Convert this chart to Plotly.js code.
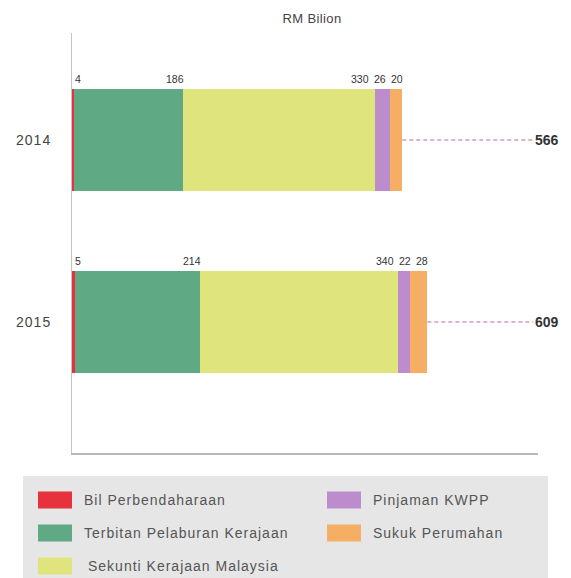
<!DOCTYPE html>
<html>
<head>
<meta charset="utf-8">
<script src="https://cdn.plot.ly/plotly-3.0.1.min.js"></script>
<style>
html,body{margin:0;padding:0;background:#fff;}
#chart{width:571px;height:578px;}
</style>
</head>
<body>
<div id="chart"></div>
<script>
// ---- data ----
const years = ['2014', '2015'];
const seriesNames = ['Bil Perbendaharaan', 'Terbitan Pelaburan Kerajaan', 'Sekunti Kerajaan Malaysia', 'Pinjaman KWPP', 'Sukuk Perumahan'];
const bilPerbendaharaan = [4, 5];
const terbitanPelaburan = [186, 214];
const sekuntiKerajaan = [330, 340];
const pinjamanKWPP = [26, 22];
const sukukPerumahan = [20, 28];
const unitTitle = 'RM Bilion';

const seriesValues = [bilPerbendaharaan, terbitanPelaburan, sekuntiKerajaan, pinjamanKWPP, sukukPerumahan];
const colors = ['#e6323c', '#5fa984', '#dfe57c', '#bd8ccd', '#f5ae64'];

// layout geometry (pixels)
const W = 571, H = 578;
const mL = 72, mR = 33, mT = 33, mB = 125;
const pw = W - mL - mR, ph = H - mT - mB;
const xMax = 800;
const px2paperX = px => (px - mL) / pw;
const py2paperY = py => (H - mB - py) / ph;
const dataToPx = v => v * pw / xMax;

const font = 'Liberation Sans, Arial, sans-serif';
const barW = 0.56;
const labelSize = 10.5;
const digitW = 5.9;

const traces = seriesValues.map((vals, i) => ({
  type: 'bar',
  orientation: 'h',
  name: seriesNames[i],
  y: years,
  x: vals,
  width: barW,
  marker: {color: colors[i], line: {width: 0}},
  hoverinfo: 'skip',
  showlegend: false
}));

const annotations = [];
const shapes = [];

years.forEach((yr, yi) => {
  // value labels: right-aligned at segment end, with simple collision avoidance
  let cum = 0;
  const labs = seriesValues.map((vals, si) => {
    const v = vals[yi];
    cum += v;
    const txt = String(v);
    const w = txt.length * digitW;
    let right;
    if (si === 0) right = 5 + w;          // first label sits at the bar start
    else right = dataToPx(cum) + 3;
    return {v, txt, w, right};
  });
  for (let k = labs.length - 2; k >= 1; k--) {
    const limit = labs[k + 1].right - labs[k + 1].w - 5;
    if (labs[k].right > limit) labs[k].right = limit;
  }
  labs.forEach(lb => {
    annotations.push({
      x: 0, y: yi - barW / 2, xref: 'x', yref: 'y',
      text: lb.txt, showarrow: false,
      xanchor: 'right', yanchor: 'bottom',
      xshift: lb.right, yshift: 2,
      font: {family: font, size: labelSize, color: '#333'}
    });
  });
  // total with dashed leader
  const total = seriesValues.reduce((s, arr) => s + arr[yi], 0);
  const lineEnd = 792;
  shapes.push({
    type: 'line', xref: 'x', yref: 'y',
    x0: total + 1, x1: lineEnd, y0: yi, y1: yi,
    line: {color: 'rgb(190,100,170)', width: 1, dash: '4px,3px'}
  });
  annotations.push({
    x: lineEnd, y: yi, xref: 'x', yref: 'y',
    text: '<b>' + total + '</b>', showarrow: false,
    xanchor: 'left', yanchor: 'middle', xshift: 0,
    font: {family: font, size: 14, color: '#333'}
  });
});

// custom legend box
shapes.push({
  type: 'rect', xref: 'paper', yref: 'paper',
  x0: px2paperX(23), x1: px2paperX(548), y0: py2paperY(590), y1: py2paperY(476),
  fillcolor: '#e6e6e6', line: {width: 0}, layer: 'below'
});
const legendPos = [
  {sx: 38, ry: 500, tx: 82}, {sx: 38, ry: 533, tx: 82}, {sx: 38, ry: 566, tx: 86},
  {sx: 327, ry: 500, tx: 371}, {sx: 327, ry: 533, tx: 371}
];
seriesNames.forEach((nm, i) => {
  const p = legendPos[i];
  shapes.push({
    type: 'rect', xref: 'paper', yref: 'paper',
    x0: px2paperX(p.sx), x1: px2paperX(p.sx + 34),
    y0: py2paperY(p.ry + 8.5), y1: py2paperY(p.ry - 8.5),
    fillcolor: colors[i], line: {width: 0}
  });
  annotations.push({
    x: px2paperX(p.tx), y: py2paperY(p.ry), xref: 'paper', yref: 'paper',
    text: nm, showarrow: false, xanchor: 'left', yanchor: 'middle',
    font: {family: font, size: 14, color: '#555'}
  });
});

const layout = {
  width: W, height: H,
  margin: {l: mL, r: mR, t: mT, b: mB, pad: 0},
  paper_bgcolor: '#ffffff', plot_bgcolor: '#ffffff',
  barmode: 'stack',
  showlegend: false,
  title: {text: unitTitle, x: 312 / W, xanchor: 'center', y: 1 - 18 / H, yanchor: 'middle',
          font: {family: font, size: 13, color: '#444'}},
  xaxis: {range: [0, xMax], showgrid: false, zeroline: false, showticklabels: false, ticks: '',
          showline: true, linecolor: '#b8b8b8', linewidth: 2, fixedrange: true},
  yaxis: {type: 'category', categoryorder: 'array', categoryarray: years,
          range: [1.72, -0.588], showgrid: false, zeroline: false,
          showline: true, linecolor: '#c4c4c4', linewidth: 1,
          ticks: 'outside', ticklen: 17, tickcolor: 'rgba(0,0,0,0)',
          tickfont: {family: font, size: 14, color: '#444'}, fixedrange: true},
  shapes: shapes,
  annotations: annotations
};

function spaceOut(t, px) {
  // add letter spacing while keeping the text's left edge where it was
  const n = t.textContent.length;
  t.style.letterSpacing = px + 'px';
  const anchor = t.getAttribute('text-anchor') || getComputedStyle(t).textAnchor;
  const x = parseFloat(t.getAttribute('x') || '0');
  if (anchor === 'middle') t.setAttribute('x', x + n * px / 2);
  else if (anchor === 'end') t.setAttribute('x', x + px);
}

Plotly.newPlot('chart', traces, layout, {staticPlot: true, displayModeBar: false}).then(() => {
  document.querySelectorAll('.annotation-text').forEach(t => {
    if (seriesNames.includes(t.textContent)) spaceOut(t, 1);
  });
  document.querySelectorAll('.ytick text').forEach(t => { t.style.letterSpacing = '1px'; });
  document.querySelectorAll('.gtitle').forEach(t => { t.style.letterSpacing = '0.4px'; });
});
</script>
</body>
</html>
